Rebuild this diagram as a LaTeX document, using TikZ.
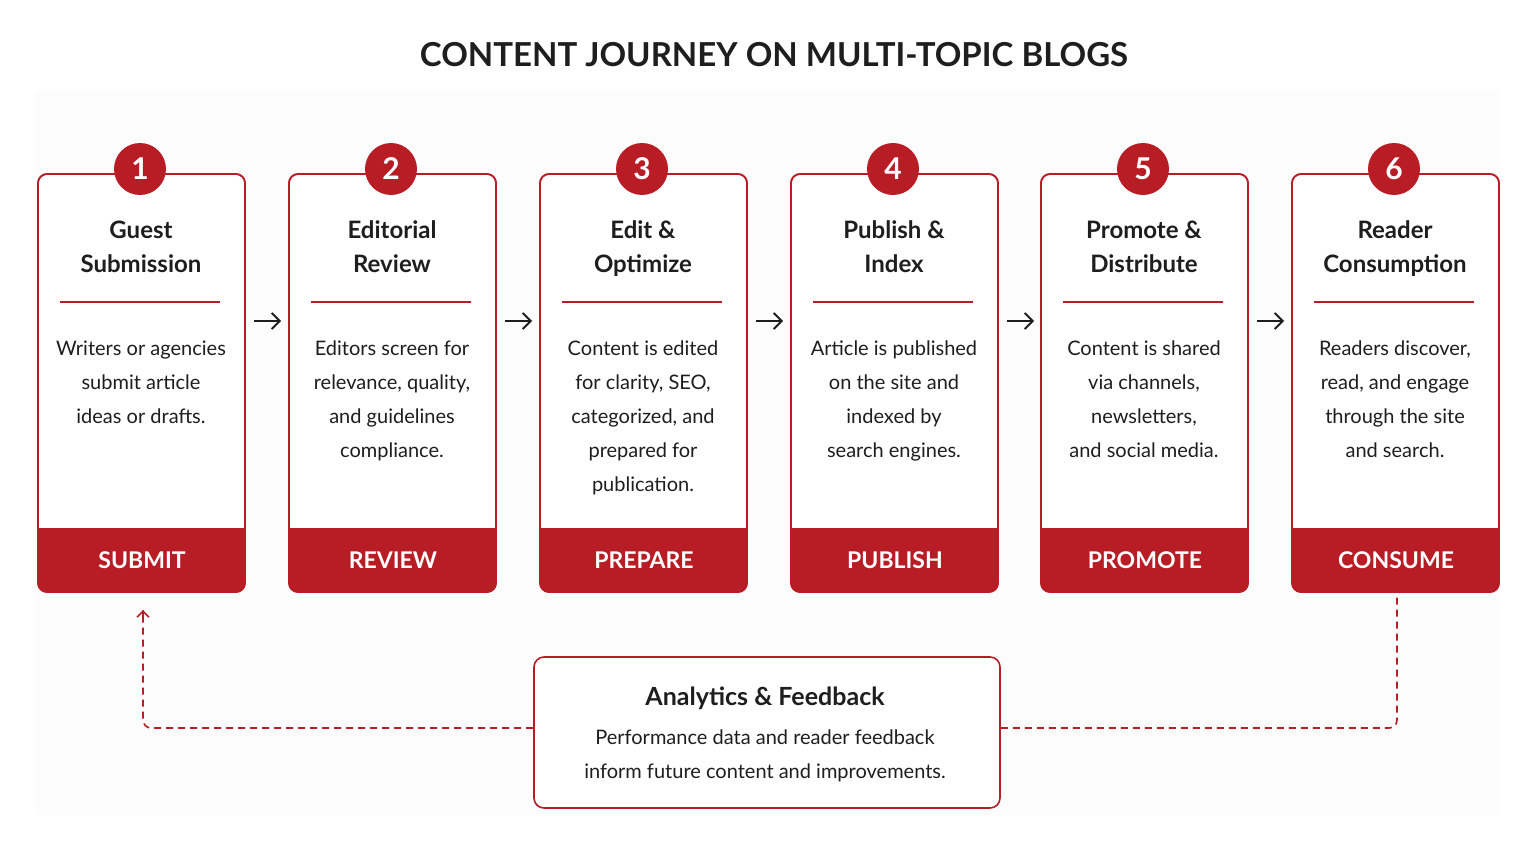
\documentclass[tikz,border=0pt]{standalone}
\usepackage{fontspec}
\setmainfont{Lato}
\usetikzlibrary{arrows.meta}
\definecolor{rd}{HTML}{B81C25}
\definecolor{ink}{HTML}{1E1E1E}
\begin{document}
\begin{tikzpicture}[x=1pt,y=-1pt,
 card/.style={draw=rd,line width=1.6pt,rounded corners=9pt,fill=white},
 num/.style={circle,fill=rd,minimum size=52pt,inner sep=0pt,text=white,font=\fontsize{30}{30}\selectfont\bfseries},
 ttl/.style={align=center,text=ink,font=\fontsize{24}{34}\selectfont\bfseries},
 body/.style={align=center,text=ink,font=\fontsize{20}{34}\selectfont},
 band/.style={text=white,font=\fontsize{23}{23}\selectfont\bfseries},
 flowarrow/.style={-{Straight Barb[length=8pt,width=16pt]},line width=1.8pt,ink},
 loopline/.style={rd,line width=1.6pt,dash pattern=on 7pt off 5pt}]
\useasboundingbox (0,0) rectangle (1535,851);
\fill[white] (0,0) rectangle (1535,851);
\fill[gray!2] (35,90) rectangle (1500,815);
\node[text=ink,font=\fontsize{33}{33}\selectfont\bfseries] (title) at (774,55) {CONTENT JOURNEY ON MULTI-TOPIC BLOGS};
\foreach \i/\x/\t/\b/\l in {
 1/38/{Guest\\Submission}/{Writers or agencies\\submit article\\ideas or drafts.}/SUBMIT,
 2/289/{Editorial\\Review}/{Editors screen for\\relevance, quality,\\and guidelines\\compliance.}/REVIEW,
 3/540/{Edit \&\\Optimize}/{Content is edited\\for clarity, SEO,\\categorized, and\\prepared for\\publication.}/PREPARE,
 4/791/{Publish \&\\Index}/{Article is published\\on the site and\\indexed by\\search engines.}/PUBLISH,
 5/1041/{Promote \&\\Distribute}/{Content is shared\\via channels,\\newsletters,\\and social media.}/PROMOTE,
 6/1292/{Reader\\Consumption}/{Readers discover,\\read, and engage\\through the site\\and search.}/CONSUME}{
 \draw[card] (\x,174) rectangle +(207,418);
 \fill[rd,rounded corners=9pt] (\x,528) -- (\x,592) -- (\x+207,592) -- (\x+207,528) -- cycle;
 \fill[rd] (\x,528) rectangle (\x+207,540);
 \draw[rd,line width=1.6pt,rounded corners=9pt] (\x,174) rectangle +(207,418);
 \node[num] (n\i) at (\x+102,169) {\i};
 \node[ttl,anchor=north] (t\i) at (\x+103,217) {\t};
 \draw[rd,line width=2pt] (\x+22,302) -- (\x+182,302);
 \node[body,anchor=north] (b\i) at (\x+103,337) {\b};
 \node[band] (l\i) at (\x+104,560) {\l};
 \coordinate (r\i) at (\x+216,321);
 \coordinate (s\i) at (\x+243,321);
}
\foreach \i in {1,...,5}{\draw[flowarrow] (r\i) -- (s\i);}
\node[draw=rd,line width=1.6pt,rounded corners=10pt,fill=white,minimum width=466pt,minimum height=151pt] (fb) at (767,732.5) {};
\node[text=ink,font=\fontsize{25}{25}\selectfont\bfseries] (fbt) at (765,698) {Analytics \& Feedback};
\node[body,text=ink] (fbb) at (765,756) {Performance data and reader feedback\\inform future content and improvements.};
\coordinate (a1) at (143,728);
\coordinate (a2) at (143,610);
\coordinate (a3) at (1397,728);
\coordinate (a4) at (1397,592);
\draw[loopline,rounded corners=8pt] (fb.west|-a1) -- (a1) -- (a2);
\draw[rd,line width=1.6pt,-{Straight Barb[length=6pt,width=12pt]}] (143,618) -- (a2);
\draw[loopline,rounded corners=8pt] (fb.east|-a3) -- (a3) -- (a4);
\end{tikzpicture}
\end{document}
